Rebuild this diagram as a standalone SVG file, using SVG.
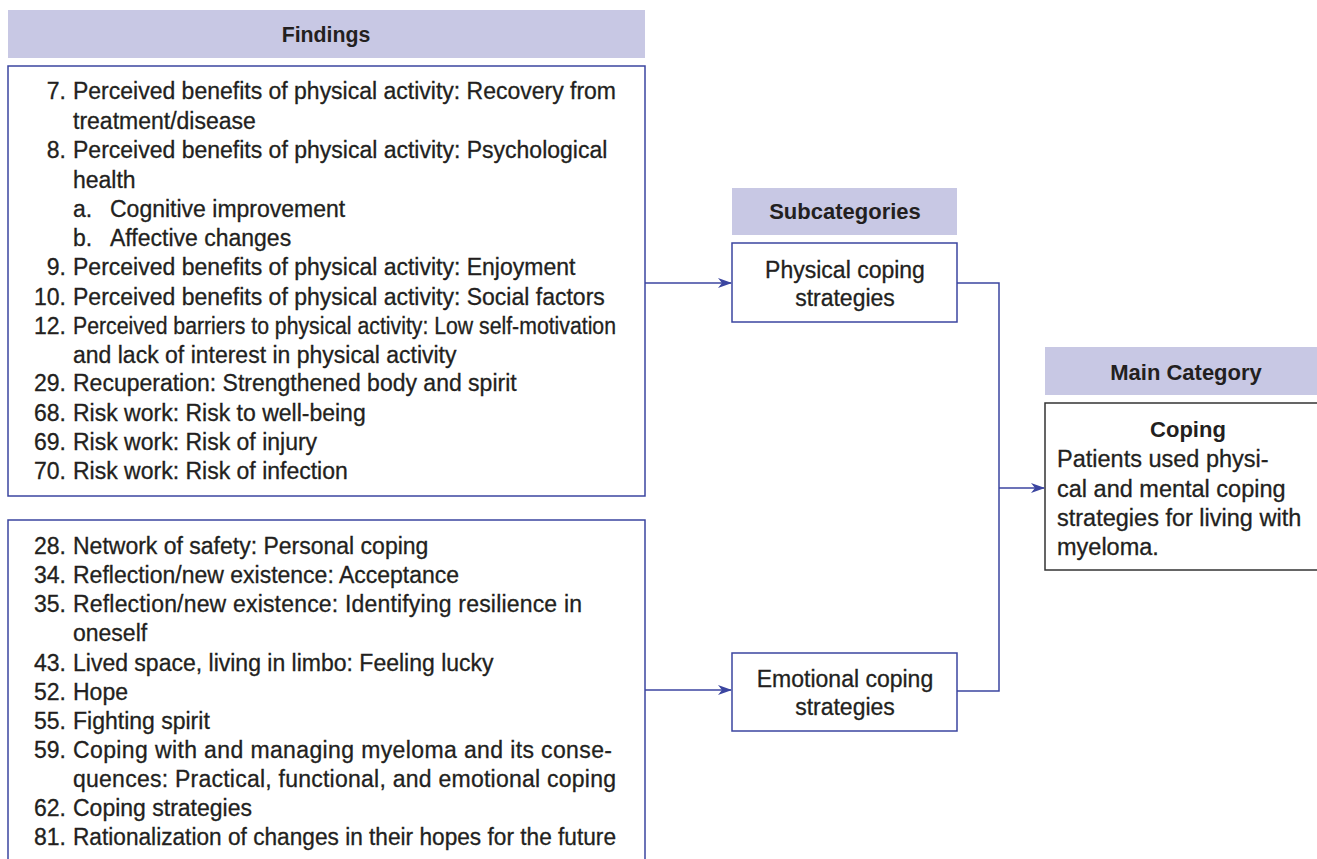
<svg xmlns="http://www.w3.org/2000/svg" width="1317" height="859" viewBox="0 0 1317 859">
<style>
.hdr{fill:#c8c8e4}
.box{fill:#fff;stroke:#3b45a0;stroke-width:1.5}
.gbox{fill:#fff;stroke:#333;stroke-width:1.5}
.t{font-family:"Liberation Sans",Arial,sans-serif;font-size:23px;fill:#231f20;stroke:#231f20;stroke-width:0.3}
.b{font-weight:bold;font-size:22px;stroke-width:0}
.c{text-anchor:middle}
.n{text-anchor:end}
.m{font-size:23.5px}
.con{fill:none;stroke:#3b45a0;stroke-width:1.5}
</style>
<defs>
<marker id="ah" markerWidth="14" markerHeight="10" refX="13" refY="5" orient="auto" markerUnits="userSpaceOnUse">
<path d="M0,0 L14,5 L0,10 L4,5 Z" fill="#3b45a0"/>
</marker>
</defs>
<rect width="1317" height="859" fill="#fff"/>
<g id="findings-header">
<rect class="hdr" x="8" y="10" width="637" height="48"/>
<text class="t b c" x="326" y="42" style="font-size:21.3px">Findings</text>
</g>
<g id="findings-physical">
<rect class="box" x="8" y="66" width="637" height="430"/>
<g class="t">
<text class="n" x="66" y="99">7.</text><text x="73" y="99" textLength="543" lengthAdjust="spacing">Perceived benefits of physical activity: Recovery from</text>
<text x="73" y="129">treatment/disease</text>
<text class="n" x="66" y="158">8.</text><text x="73" y="158">Perceived benefits of physical activity: Psychological</text>
<text x="73" y="188">health</text>
<text x="73" y="217">a.</text><text x="110" y="217">Cognitive improvement</text>
<text x="73" y="246">b.</text><text x="110" y="246">Affective changes</text>
<text class="n" x="66" y="275">9.</text><text x="73" y="275">Perceived benefits of physical activity: Enjoyment</text>
<text class="n" x="66" y="305">10.</text><text x="73" y="305">Perceived benefits of physical activity: Social factors</text>
<text class="n" x="66" y="334">12.</text><text x="73" y="334" textLength="543" lengthAdjust="spacingAndGlyphs">Perceived barriers to physical activity: Low self-motivation</text>
<text x="73" y="363">and lack of interest in physical activity</text>
<text class="n" x="66" y="391">29.</text><text x="73" y="391">Recuperation: Strengthened body and spirit</text>
<text class="n" x="66" y="421">68.</text><text x="73" y="421">Risk work: Risk to well-being</text>
<text class="n" x="66" y="450">69.</text><text x="73" y="450">Risk work: Risk of injury</text>
<text class="n" x="66" y="479">70.</text><text x="73" y="479">Risk work: Risk of infection</text>
</g>
</g>
<g id="findings-emotional">
<path class="box" d="M8,870 V520 H645 V870"/>
<g class="t">
<text class="n" x="66" y="554">28.</text><text x="73" y="554">Network of safety: Personal coping</text>
<text class="n" x="66" y="583">34.</text><text x="73" y="583">Reflection/new existence: Acceptance</text>
<text class="n" x="66" y="612">35.</text><text x="73" y="612" textLength="509" lengthAdjust="spacing">Reflection/new existence: Identifying resilience in</text>
<text x="73" y="641">oneself</text>
<text class="n" x="66" y="671">43.</text><text x="73" y="671">Lived space, living in limbo: Feeling lucky</text>
<text class="n" x="66" y="700">52.</text><text x="73" y="700">Hope</text>
<text class="n" x="66" y="729">55.</text><text x="73" y="729">Fighting spirit</text>
<text class="n" x="66" y="758">59.</text><text x="73" y="758" textLength="539" lengthAdjust="spacing">Coping with and managing myeloma and its conse-</text>
<text x="73" y="787" textLength="543" lengthAdjust="spacing">quences: Practical, functional, and emotional coping</text>
<text class="n" x="66" y="816">62.</text><text x="73" y="816">Coping strategies</text>
<text class="n" x="66" y="845">81.</text><text x="73" y="845" textLength="543" lengthAdjust="spacingAndGlyphs">Rationalization of changes in their hopes for the future</text>
</g>
</g>
<g id="subcategories-header">
<rect class="hdr" x="732" y="188" width="225" height="47"/>
<text class="t b c" x="845" y="219">Subcategories</text>
</g>
<g id="physical-coping">
<rect class="box" x="732" y="243" width="225" height="79"/>
<text class="t c" x="845" y="278">Physical coping</text>
<text class="t c" x="845" y="306">strategies</text>
</g>
<g id="emotional-coping">
<rect class="box" x="732" y="653" width="225" height="78"/>
<text class="t c" x="845" y="687">Emotional coping</text>
<text class="t c" x="845" y="715">strategies</text>
</g>
<g id="main-category-header">
<rect class="hdr" x="1045" y="347" width="275" height="48"/>
<text class="t b c" x="1186" y="380">Main Category</text>
</g>
<g id="coping">
<rect class="gbox" x="1045" y="403" width="290" height="167"/>
<text class="t b c" x="1188" y="437">Coping</text>
<text class="t m" x="1057" y="467">Patients used physi-</text>
<text class="t m" x="1057" y="497">cal and mental coping</text>
<text class="t m" x="1057" y="526">strategies for living with</text>
<text class="t m" x="1057" y="555">myeloma.</text>
</g>
<g id="connectors">
<path class="con" d="M645,283 H731" marker-end="url(#ah)"/>
<path class="con" d="M645,690 H731" marker-end="url(#ah)"/>
<path class="con" d="M957,283 H999 V691 H957"/>
<path class="con" d="M999,488 H1044" marker-end="url(#ah)"/>
</g>
</svg>
